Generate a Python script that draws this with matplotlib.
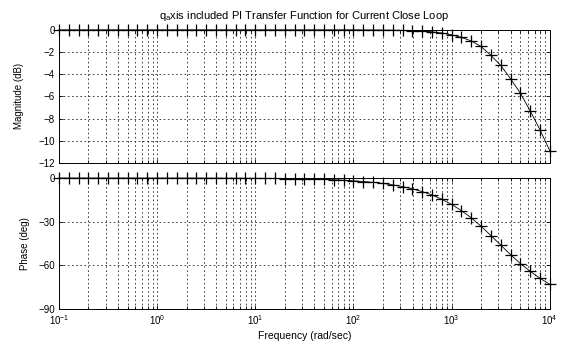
import matplotlib
matplotlib.use('Agg')
import matplotlib.pyplot as plt
from matplotlib.ticker import LogLocator, FixedLocator, NullFormatter

plt.rcParams['font.family'] = ['Liberation Sans', 'DejaVu Sans']
plt.rcParams['mathtext.fontset'] = 'custom'
plt.rcParams['mathtext.rm'] = 'Liberation Sans'
plt.rcParams['mathtext.it'] = 'Liberation Sans:italic'

# frequency grid: 10 points per decade, 0.1 .. 1e4 rad/sec
mantissas = [1.0, 1.259, 1.585, 1.995, 2.512, 3.162, 3.981, 5.012, 6.310, 7.943]
decades = [-1, 0, 1, 2, 3]
freq = [m * 10.0 ** d for d in decades for m in mantissas] + [1e4]

mag_db = [0.0] * 31 + [
    -0.01, -0.01, -0.02, -0.03, -0.05, -0.07, -0.11, -0.18, -0.28, -0.45,
    -0.68, -1.0, -1.5, -2.3, -3.2, -4.4, -5.7, -7.3, -9.0, -10.9]

phase_deg = [
    0.0, 0.0, 0.0, 0.0, 0.0, -0.01, -0.01, -0.01, -0.01, -0.02, -0.02,
    -0.02, -0.03, -0.04, -0.05, -0.06, -0.07, -0.09, -0.12, -0.15, -0.19,
    -0.24, -0.30, -0.37, -0.47, -0.59, -0.75, -0.94, -1.2, -1.5, -1.9,
    -2.4, -3.0, -3.7, -4.7, -5.9, -7.4, -9.3, -11.6, -14.6, -18.1,
    -22.4, -27.3, -33.1, -39.5, -46.0, -52.6, -58.7, -64.0, -68.8, -73.0]

mag_ticks = [0, -2, -4, -6, -8, -10, -12]
phase_ticks = [0, -30, -60, -90]

fig = plt.figure(figsize=(5.61, 3.45), dpi=100)
ax1 = fig.add_axes([0.105, 0.5275, 0.875, 0.386])
ax2 = fig.add_axes([0.105, 0.104, 0.875, 0.380])

grid_kw = dict(color='0.15', linestyle=(0, (2, 3)), linewidth=0.6)

for ax, y, ticks in [(ax1, mag_db, mag_ticks), (ax2, phase_deg, phase_ticks)]:
    ax.semilogx(freq, y, color='black', linewidth=0.6, marker='+',
                markersize=8.5, markeredgewidth=0.9, clip_on=False, zorder=3)
    ax.set_xlim(0.1, 1e4)
    ax.set_ylim(min(ticks), max(ticks))
    ax.yaxis.set_major_locator(FixedLocator(ticks))
    ax.xaxis.set_major_locator(LogLocator(base=10, numticks=10))
    ax.xaxis.set_minor_locator(LogLocator(base=10, subs=range(2, 10), numticks=20))
    ax.xaxis.set_minor_formatter(NullFormatter())
    ax.grid(True, which='major', axis='both', **grid_kw)
    ax.grid(True, which='minor', axis='x', **grid_kw)
    ax.tick_params(which='both', direction='in', top=True, right=True,
                   labelsize=7, length=3, width=0.6, pad=3)
    ax.tick_params(which='minor', length=2)
    for s in ax.spines.values():
        s.set_linewidth(0.7)

ax1.tick_params(labelbottom=False)
ax1.set_ylabel('Magnitude (dB)', fontsize=7, labelpad=10)
ax2.set_ylabel('Phase (deg)', fontsize=7, labelpad=6)
ax2.set_xlabel('Frequency (rad/sec)', fontsize=7.5, labelpad=3)
ax1.set_title(r'q$_{\mathrm{a}}$xis included PI Transfer Function for Current Close Loop',
              fontsize=8, pad=8)
fig.align_ylabels([ax1, ax2])

fig.savefig('out.png', dpi=100)
